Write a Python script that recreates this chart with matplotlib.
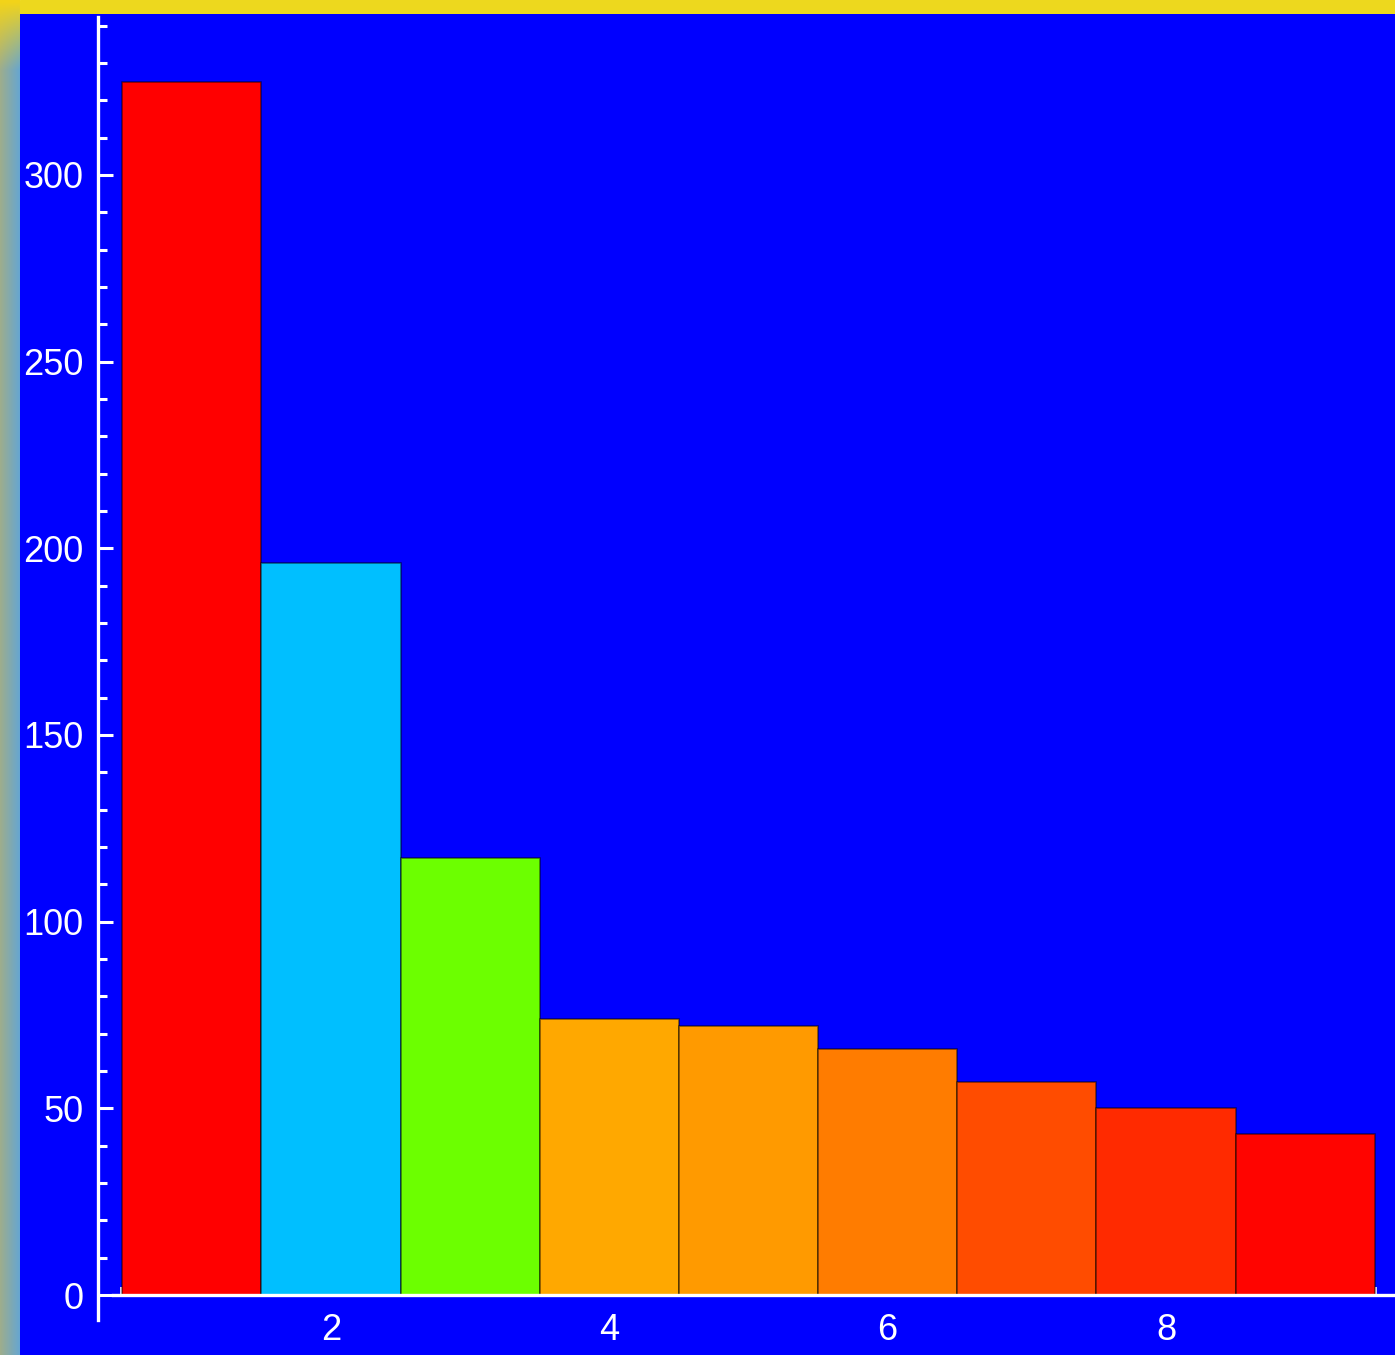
import numpy as np
import matplotlib
matplotlib.use('Agg')
import matplotlib.pyplot as plt
from matplotlib.ticker import FixedLocator

# data
positions = [1, 2, 3, 4, 5, 6, 7, 8, 9]
values = [325, 196, 117, 74, 72, 66, 57, 50, 43]
bar_colors = ['#FF0000', '#00BFFF', '#6CFF00', '#FFA800', '#FF9A00',
              '#FF7C00', '#FF4C00', '#FF2A00', '#FF0400']
y_major = [0, 50, 100, 150, 200, 250, 300]
x_major = [2, 4, 6, 8]

plt.rcParams['font.family'] = ['Liberation Sans', 'DejaVu Sans']

fig = plt.figure(figsize=(13.95, 13.55), dpi=100)

# yellow / teal frame behind the plot
bg = fig.add_axes([0, 0, 1, 1])
h, w = 300, 40
yy = np.linspace(0, 1, h)[:, None, None]
xx = np.linspace(0, 1, w)[None, :, None]
top = np.array([0.95, 0.83, 0.10])
low_l = np.array([0.62, 0.68, 0.55])
low_r = np.array([0.40, 0.65, 0.82])
low = low_l * (1 - xx) + low_r * xx
t = np.clip(yy / 0.05, 0, 1)
img = top * (1 - t) + low * t
bg.imshow(np.clip(img, 0, 1), aspect='auto', extent=[0, 20 / 1395, 0, 1],
          origin='upper', interpolation='bilinear')
bg.set_xlim(0, 1)
bg.set_ylim(0, 1)
bg.axis('off')
# top band
bg.axhspan(1 - 14 / 1355, 1, xmin=20 / 1395, color='#EDD81E', zorder=3)

ax = fig.add_axes([20 / 1395, 0, 1375 / 1395, 1341 / 1355])
ax.set_facecolor('#0000FF')
ax.bar(positions, values, width=1.0, color=bar_colors,
       edgecolor=(0, 0, 0, 0.55), linewidth=1.1, zorder=2)

ax.set_xlim(-0.2347, 9.6455)
ax.set_ylim(-16.07, 343.1)

for s in ['top', 'right']:
    ax.spines[s].set_visible(False)
ax.spines['left'].set_position(('data', 0.3258))
ax.spines['left'].set_bounds(-6.7, 342.3)
ax.spines['bottom'].set_position(('data', 0))
ax.spines['bottom'].set_bounds(0.4336, 9.6455)
for s in ['left', 'bottom']:
    ax.spines[s].set_color('white')
    ax.spines[s].set_linewidth(2.4)
    ax.spines[s].set_zorder(3)

ax.yaxis.set_major_locator(FixedLocator(y_major))
ax.yaxis.set_minor_locator(FixedLocator(np.arange(0, 341, 10)))
ax.xaxis.set_major_locator(FixedLocator(x_major))
ax.xaxis.set_minor_locator(FixedLocator(np.arange(0.5, 9.6, 0.5)))

ax.tick_params(axis='y', which='major', direction='in', length=10.5, width=2.2,
               color='white', labelcolor='white', labelsize=26, pad=10.5)
ax.tick_params(axis='y', which='minor', direction='in', length=6.5, width=2.2,
               color='white')
ax.tick_params(axis='x', which='major', direction='in', length=9.5, width=2.6,
               color='white', labelcolor='white', labelsize=26, pad=13)
ax.tick_params(axis='x', which='minor', direction='in', length=5.5, width=2.6,
               color='white')

plt.savefig('out.png', dpi=100)
